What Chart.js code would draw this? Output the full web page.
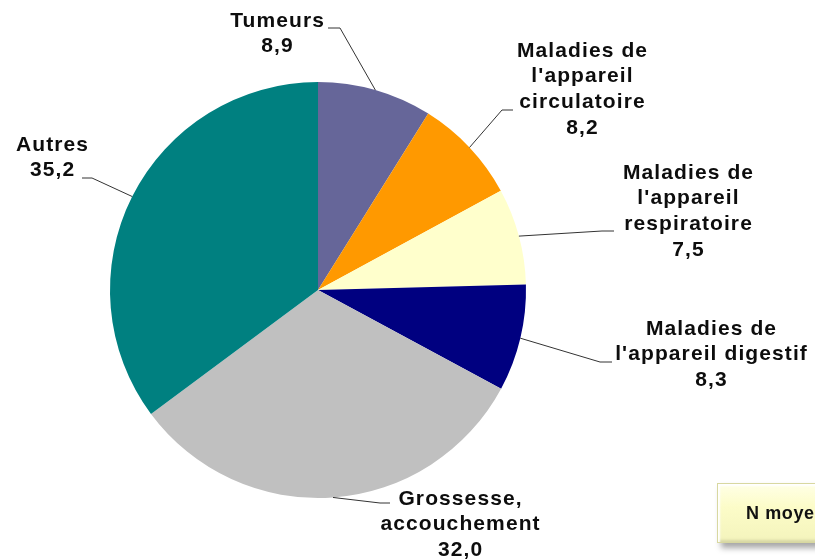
<!DOCTYPE html>
<html lang="fr">
<head>
<meta charset="utf-8">
<title>Répartition des séjours par pathologie</title>
<script src="https://cdn.jsdelivr.net/npm/chart.js@4.4.1/dist/chart.umd.min.js"></script>
<style>
  html, body { margin: 0; padding: 0; background: #ffffff; overflow: hidden; }
  #wrap { position: relative; width: 815px; height: 560px; }
  canvas { display: block; }
  #note {
    position: absolute; left: 717px; top: 483px; width: 140px; height: 60px;
    box-sizing: border-box;
    background: linear-gradient(#ffffe6, #fcfcc8 40%, #f4f4bc);
    border: 1px solid #d8d8a0;
    box-shadow: inset 2px 2px 2px #ffffff, inset -2px -2px 3px #d6d6a4, 4px 5px 6px rgba(0,0,0,0.35);
    font: bold 18px "Liberation Sans", Arial, sans-serif;
    color: #111; padding: 19px 0 0 28px; white-space: nowrap; letter-spacing: 0.6px;
  }
</style>
</head>
<body>
<div id="wrap">
  <canvas id="c" width="815" height="560"></canvas>
  <div id="note">N moyen</div>
</div>
<script>
// Slice labels (each line of a label is one entry)
const categories = [
  ["Tumeurs"],
  ["Maladies de", "l'appareil", "circulatoire"],
  ["Maladies de", "l'appareil", "respiratoire"],
  ["Maladies de", "l'appareil digestif"],
  ["Grossesse,", "accouchement"],
  ["Autres"]
];
// Share of stays, in %
const shares = [8.9, 8.2, 7.5, 8.3, 32.0, 35.2];
const sliceColors = ["#666699", "#ff9900", "#ffffcc", "#000080", "#c0c0c0", "#008080"];

// Where each callout sits: elbow of the leader, end of its short tail,
// centre x of the text block and y of its first line.
const callouts = [
  { elbow: [340, 28],  tail: 328, tx: 277, ty: 20 },
  { elbow: [502, 110], tail: 513, tx: 582, ty: 50 },
  { elbow: [602, 231], tail: 614, tx: 688, ty: 172 },
  { elbow: [600, 362], tail: 612, tx: 711, ty: 328 },
  { elbow: [380, 503], tail: 390, tx: 460, ty: 498 },
  { elbow: [92, 178],  tail: 82,  tx: 52,  ty: 144 }
];

const fmt = v => v.toFixed(1).replace(".", ",");

const calloutPlugin = {
  id: "callouts",
  afterDraw(chart) {
    const ctx = chart.ctx;
    const meta = chart.getDatasetMeta(0);
    ctx.save();
    meta.data.forEach((arc, i) => {
      const c = callouts[i];
      const p = arc.getProps(["x", "y", "startAngle", "endAngle", "outerRadius"], true);
      const mid = (p.startAngle + p.endAngle) / 2;
      const ex = p.x + Math.cos(mid) * p.outerRadius;
      const ey = p.y + Math.sin(mid) * p.outerRadius;
      ctx.strokeStyle = "#333333";
      ctx.lineWidth = 1;
      ctx.beginPath();
      ctx.moveTo(ex, ey);
      ctx.lineTo(c.elbow[0], c.elbow[1]);
      ctx.lineTo(c.tail, c.elbow[1]);
      ctx.stroke();

      const lines = categories[i].concat([fmt(shares[i])]);
      ctx.fillStyle = "#0d0d0d";
      ctx.font = 'bold 21px "Liberation Sans", Arial, sans-serif';
      if ("letterSpacing" in ctx) ctx.letterSpacing = "1.1px";
      ctx.textAlign = "center";
      ctx.textBaseline = "middle";
      lines.forEach((t, k) => ctx.fillText(t, c.tx + 0.55, c.ty + 1 + k * 25.7));
    });
    ctx.restore();
  }
};

new Chart(document.getElementById("c"), {
  type: "pie",
  data: {
    labels: categories.map(l => l.join(" ")),
    datasets: [{
      data: shares,
      backgroundColor: sliceColors,
      borderWidth: 0,
      hoverOffset: 0
    }]
  },
  options: {
    responsive: false,
    animation: false,
    layout: { padding: { left: 110, right: 289, top: 82, bottom: 62 } },
    plugins: {
      legend: { display: false },
      tooltip: { enabled: false },
      title: { display: false }
    },
    events: []
  },
  plugins: [calloutPlugin]
});
</script>
</body>
</html>
